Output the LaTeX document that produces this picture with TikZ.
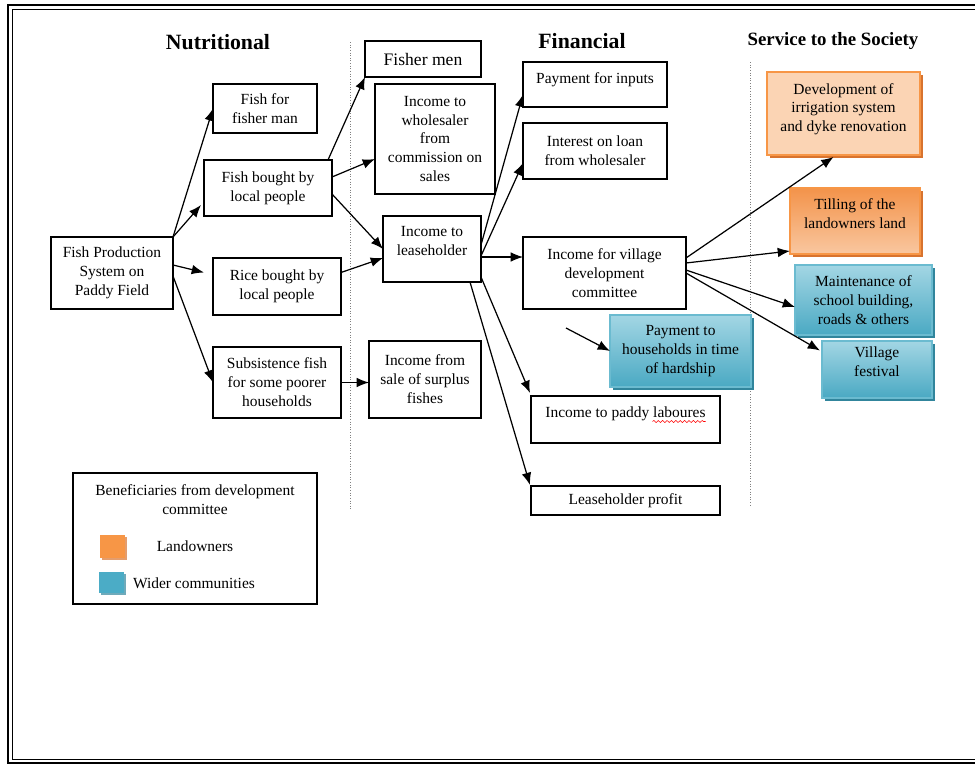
\documentclass[tikz,border=0pt]{standalone}
\usepackage{fontspec}
\setmainfont{Liberation Serif}
\usepackage{xcolor}
\usepackage{tikz}
\usetikzlibrary{positioning,calc,arrows.meta,shadows,decorations.pathmorphing}

\definecolor{peach}{HTML}{FBD4B4}
\definecolor{orangeline}{HTML}{F79646}
\definecolor{orangeshadow}{HTML}{D8732E}
\definecolor{otop}{HTML}{F3934A}
\definecolor{obottom}{HTML}{F9C7A0}
\definecolor{btop}{HTML}{A3D6E4}
\definecolor{bbottom}{HTML}{4AA9C3}
\definecolor{blueline}{HTML}{6BBBD0}
\definecolor{blueshadow}{HTML}{31859C}
\definecolor{legorange}{HTML}{F79646}
\definecolor{legblue}{HTML}{4BACC6}

\begin{document}
\begin{tikzpicture}[x=0.02cm, y=-0.02cm, outer sep=0pt,
    box/.style={draw, rectangle, line width=0.6pt, align=center, inner sep=1pt, font=\fontsize{8.8}{10.8}\selectfont},
    peachbox/.style={box, draw=orangeline, fill=peach, drop shadow={shadow xshift=0.06cm, shadow yshift=-0.06cm, fill=orangeshadow, opacity=1}},
    orangebox/.style={box, draw=orangeline, top color=otop, bottom color=obottom, drop shadow={shadow xshift=0.06cm, shadow yshift=-0.06cm, fill=orangeshadow, opacity=1}},
    bluebox/.style={box, draw=blueline, top color=btop, bottom color=bbottom, drop shadow={shadow xshift=0.06cm, shadow yshift=-0.06cm, fill=blueshadow, opacity=1}},
    head/.style={font=\bfseries\fontsize{12.4}{14}\selectfont},
    arr/.style={-{Latex[length=7pt,width=5.5pt]}, line width=0.7pt},
    sep/.style={densely dotted, gray, line width=0.5pt}]
    \useasboundingbox (0,0) rectangle (975,765);
    \draw[line width=1.2pt] (8,5) rectangle (990,763);
    \draw[line width=0.4pt] (12,9) rectangle (986,759);

    \node[head] (nutri) at (218,42) {Nutritional};
    \node[head] (fin) at (582,41) {Financial};
    \node[head, font=\bfseries\fontsize{10.7}{13}\selectfont] (serv) at (833,41) {Service to the Society};
    \draw[sep] (350,42) -- (350,510);
    \draw[sep] (750,62) -- (750,505);

    \node[box, minimum width=2.44cm, minimum height=1.44cm] (fps) at (112,273) {Fish Production\\System on\\Paddy Field};
    \node[box, minimum width=2.08cm, minimum height=0.98cm] (fishfm) at (265,108.5) {Fish for\\fisher man};
    \node[box, minimum width=2.56cm, minimum height=1.12cm] (fishlp) at (268,188) {Fish bought by\\local people};
    \node[box, minimum width=2.56cm, minimum height=1.14cm] (ricelp) at (277,286.5) {Rice bought by\\local people};
    \node[box, minimum width=2.56cm, minimum height=1.42cm] (subs) at (277,382.5) {Subsistence fish\\for some poorer\\households};

    \node[box, minimum width=2.32cm, minimum height=0.72cm, font=\fontsize{10}{12}\selectfont] (fishermen) at (423,59) {Fisher men};
    \node[box, minimum width=2.4cm, minimum height=2.2cm] (whole) at (435,139) {Income to\\wholesaler\\from\\commission on\\sales};
    \node[box, minimum width=1.96cm, minimum height=1.32cm] (lease) at (432,249) {Income to\\leaseholder\\[-2pt]\mbox{}};
    \node[box, minimum width=2.24cm, minimum height=1.54cm] (surplus) at (425,379.5) {Income from\\sale of surplus\\fishes};

    \node[box, minimum width=2.88cm, minimum height=0.9cm] (inputs) at (595,84.5) {Payment for inputs\\[-4pt]\mbox{}};
    \node[box, minimum width=2.88cm, minimum height=1.12cm] (loan) at (595,151) {Interest on loan\\from wholesaler};
    \node[box, minimum width=3.26cm, minimum height=1.44cm] (vdc) at (604.5,273) {Income for village\\development\\committee};
    \node[box, minimum width=3.78cm, minimum height=0.94cm] (labour) at (625.5,419.5) {Income to paddy laboures\\[-2.3pt]\mbox{}};
    \draw[red, line width=0.3pt, decorate, decoration={snake, amplitude=0.6pt, segment length=2.5pt}] ($(labour.center)+(27,2)$) -- ($(labour.center)+(80,2)$);
    \node[box, minimum width=3.78cm, minimum height=0.58cm] (profit) at (625.5,500.5) {Leaseholder profit};

    \node[peachbox, minimum width=3.06cm, minimum height=1.66cm] (irrig) at (843.5,113.5) {Development of\\irrigation system\\and dyke renovation\\[-4pt]\mbox{}};
    \node[orangebox, minimum width=2.6cm, minimum height=1.32cm] (till) at (855,221) {Tilling of the\\landowners land\\[-2pt]\mbox{}};
    \node[bluebox, minimum width=2.74cm, minimum height=1.4cm] (maint) at (863.5,300) {Maintenance of\\school building,\\roads \& others};
    \node[bluebox, minimum width=2.2cm, minimum height=1.14cm] (fest) at (877,369.5) {Village\\festival\\[-2pt]\mbox{}};
    \node[bluebox, minimum width=2.82cm, minimum height=1.44cm] (hardship) at (680.5,351) {Payment to\\households in time\\of hardship};

    \node[box, minimum width=4.88cm, minimum height=2.62cm] (legend) at (195,538.5) {};
    \node[box, draw=none] (legtitle) at (195,500) {Beneficiaries from development\\committee};
    \node[box, draw=none] (landlab) at (195,546) {Landowners};
    \node[box, draw=none] (widelab) at (194,583) {Wider communities};
    \node[fill=legorange, minimum width=0.5cm, minimum height=0.46cm, drop shadow={shadow xshift=0.04cm, shadow yshift=-0.04cm, fill=orangeshadow!70, opacity=1}] (landkey) at (112.5,546.5) {};
    \node[fill=legblue, minimum width=0.5cm, minimum height=0.42cm, drop shadow={shadow xshift=0.04cm, shadow yshift=-0.04cm, fill=blueshadow!70, opacity=1}] (widekey) at (111.5,582.5) {};

    \draw[arr] (fps.north east) -- (fishfm.west);
    \draw[arr] (fps.north east) -- ($(fishlp.west)+(-3,17)$);
    \draw[arr] ($(fps.east)+(0,-8)$) -- ($(ricelp.west)+(-9,-14)$);
    \draw[arr] ($(fps.east)+(0,3)$) -- (subs.west);
    \draw[arr] ($(fishlp.north east)+(-4,0)$) -- (fishermen.south west);
    \draw[arr] ($(fishlp.east)+(0,-11)$) -- ($(whole.west)+(0,20)$);
    \draw[arr] ($(fishlp.east)+(0,6)$) -- (lease.west);
    \draw[arr] ($(ricelp.east)+(0,-14)$) -- ($(lease.west)+(0,9)$);
    \draw[arr] (subs.east) -- ($(surplus.west)+(0,3)$);
    \draw[arr] ($(lease.east)+(0,-4)$) -- ($(inputs.west)+(0,10)$);
    \draw[arr] ($(lease.east)+(0,7)$) -- ($(loan.west)+(0,12)$);
    \draw[arr] ($(lease.east)+(0,8)$) -- ($(vdc.west)+(0,-16)$);
    \draw[arr] ($(lease.south east)+(0,-5)$) -- ($(labour.north west)+(-1,-3)$);
    \draw[arr] ($(lease.south east)+(-11,0)$) -- ($(profit.north west)+(-1,-1)$);
    \draw[arr] ($(vdc.east)+(0,-15)$) -- ($(irrig.south)+(-10,2)$);
    \draw[arr] ($(vdc.east)+(0,-10)$) -- ($(till.south west)+(0,-3)$);
    \draw[arr] ($(vdc.east)+(0,-3)$) -- ($(maint.west)+(0,7)$);
    \draw[arr] (vdc.east) -- ($(fest.west)+(-2,-19)$);
    \coordinate (hstart) at (566,328);
    \draw[arr] (hstart) -- (hardship.west);
\end{tikzpicture}
\end{document}
